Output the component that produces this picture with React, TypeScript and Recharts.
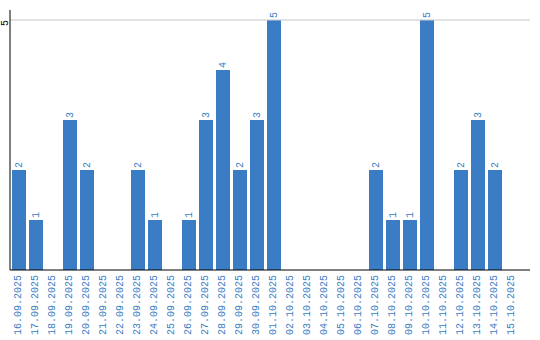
import { BarChart, Bar, XAxis, YAxis, ReferenceLine, LabelList } from "recharts";

const dates = [
  "16.09.2025", "17.09.2025", "18.09.2025", "19.09.2025", "20.09.2025",
  "21.09.2025", "22.09.2025", "23.09.2025", "24.09.2025", "25.09.2025",
  "26.09.2025", "27.09.2025", "28.09.2025", "29.09.2025", "30.09.2025",
  "01.10.2025", "02.10.2025", "03.10.2025", "04.10.2025", "05.10.2025",
  "06.10.2025", "07.10.2025", "08.10.2025", "09.10.2025", "10.10.2025",
  "11.10.2025", "12.10.2025", "13.10.2025", "14.10.2025", "15.10.2025",
];
const counts = [2, 1, 0, 3, 2, 0, 0, 2, 1, 0, 1, 3, 4, 2, 3, 5, 0, 0, 0, 0, 0, 2, 1, 1, 5, 0, 2, 3, 2, 0];
const yTicks = [5];

const data = dates.map((d, i) => ({ date: d, count: counts[i] }));

const BLUE = "#3a7dc4";
const FONT = "'Liberation Mono', monospace";

function XTick({ x, payload }: any) {
  const ty = 275;
  return (
    <text
      x={x}
      y={ty}
      transform={`rotate(-90, ${x}, ${ty})`}
      textAnchor="end"
      dominantBaseline="central"
      fontFamily={FONT}
      fontSize={10}
      fill={BLUE}
    >
      {payload.value}
    </text>
  );
}

function YTick({ y, payload }: any) {
  const ty = y + 3;
  return (
    <text
      x={5}
      y={ty}
      transform={`rotate(-90, 5, ${ty})`}
      textAnchor="middle"
      dominantBaseline="central"
      fontFamily={FONT}
      fontSize={10}
      fill="#000"
    >
      {payload.value}
    </text>
  );
}

function ValueLabel({ x, y, width, value }: any) {
  if (!value) return null;
  const cx = x + width / 2;
  const cy = y - 2;
  return (
    <text
      x={cx}
      y={cy}
      transform={`rotate(-90, ${cx}, ${cy})`}
      textAnchor="start"
      dominantBaseline="central"
      fontFamily={FONT}
      fontSize={10}
      fill={BLUE}
    >
      {value}
    </text>
  );
}

export default function App() {
  return (
    <div style={{ position: "absolute", left: 0, top: 0, background: "#fff" }}>
      <BarChart
        width={540}
        height={340}
        data={data}
        margin={{ top: 10, right: 10, bottom: 0, left: 0 }}
        barSize={14}
      >
        <ReferenceLine y={5} stroke="#c8c8c8" />
        <XAxis
          dataKey="date"
          interval={0}
          height={70}
          tickLine={false}
          axisLine={{ stroke: "#000" }}
          tick={<XTick />}
          padding={{ left: 0, right: 10 }}
        />
        <YAxis
          width={10}
          domain={[0, 5.2]}
          ticks={yTicks}
          tickLine={false}
          axisLine={{ stroke: "#000" }}
          tick={<YTick />}
        />
        <Bar dataKey="count" fill={BLUE} isAnimationActive={false}>
          <LabelList dataKey="count" content={<ValueLabel />} />
        </Bar>
      </BarChart>
    </div>
  );
}
